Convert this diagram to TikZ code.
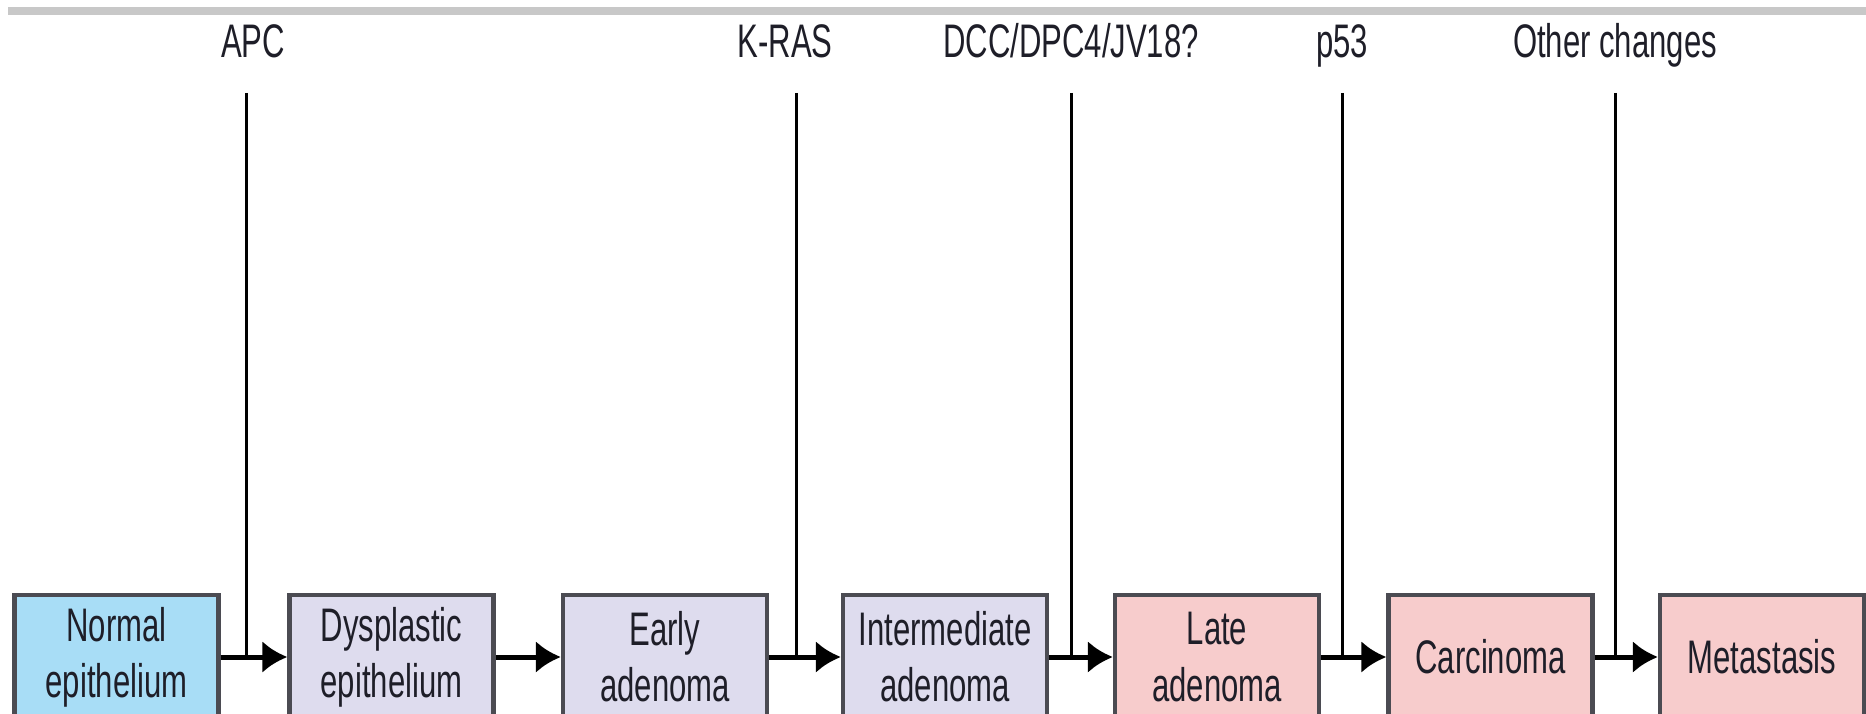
\documentclass[tikz,border=0pt]{standalone}
\usepackage{fontspec}
\setmainfont{Liberation Sans}[FakeStretch=0.66]
\usepackage{tikz}
\usetikzlibrary{arrows.meta}
\definecolor{boxblue}{RGB}{168,221,246}
\definecolor{boxlilac}{RGB}{222,220,238}
\definecolor{boxpink}{RGB}{247,204,204}
\definecolor{edgegray}{RGB}{75,75,82}
\definecolor{bargray}{RGB}{200,200,200}
\definecolor{inkdark}{RGB}{30,30,40}

\begin{document}
\begin{tikzpicture}[
    healthy/.style={rectangle, draw=edgegray, line width=1.2pt, fill=boxblue, align=center, minimum width=2.04cm, minimum height=1.24cm, inner sep=0pt, text=inkdark, font=\fontsize{13.4}{16}\selectfont},
    adenoma/.style={rectangle, draw=edgegray, line width=1.2pt, fill=boxlilac, align=center, minimum width=2.04cm, minimum height=1.24cm, inner sep=0pt, text=inkdark, font=\fontsize{13.4}{16}\selectfont},
    malignant/.style={rectangle, draw=edgegray, line width=1.2pt, fill=boxpink, align=center, minimum width=2.04cm, minimum height=1.24cm, inner sep=0pt, text=inkdark, font=\fontsize{13.4}{16}\selectfont},
    gene/.style={anchor=base, inner sep=0pt, text=inkdark, font=\fontsize{13.4}{16}\selectfont},
    arrow/.style={-{Latex[length=0.25cm, width=0.32cm]}, line width=0.05cm},
    hit/.style={line width=0.03cm}
]
\useasboundingbox (0,0) rectangle (18.66,7.13);
\clip (0,0) rectangle (18.66,7.13);
\fill[bargray] (0.08,6.98) rectangle (18.66,7.06);

\node[healthy] (normal) at (1.165,0.56) {Normal\\epithelium};
\node[adenoma] (dysplastic) at (3.915,0.56) {Dysplastic\\epithelium};
\node[adenoma] (early) at (6.65,0.56) {Early\\adenoma};
\node[adenoma] (intermediate) at (9.45,0.56) {Intermediate\\adenoma};
\node[malignant] (late) at (12.17,0.56) {Late\\adenoma};
\node[malignant] (carcinoma) at (14.905,0.56) {Carcinoma};
\node[malignant] (metastasis) at (17.62,0.56) {Metastasis};

\node[gene] (apc) at (2.53,6.55) {APC};
\node[gene] (kras) at (7.85,6.55) {K-RAS};
\node[gene] (dcc) at (10.71,6.55) {DCC/DPC4/JV18?};
\node[gene] (p53) at (13.42,6.55) {p53};
\node[gene] (other) at (16.15,6.55) {Other changes};

\draw[arrow] (normal) -- (dysplastic);
\draw[arrow] (dysplastic) -- (early);
\draw[arrow] (early) -- (intermediate);
\draw[arrow] (intermediate) -- (late);
\draw[arrow] (late) -- (carcinoma);
\draw[arrow] (carcinoma) -- (metastasis);

\draw[hit] ([xshift=-0.07cm, yshift=-0.35cm]apc.base) -- ([xshift=-0.07cm]apc.base |- normal.east);
\draw[hit] ([xshift=0.11cm, yshift=-0.35cm]kras.base) -- ([xshift=0.11cm]kras.base |- early.east);
\draw[hit] ([yshift=-0.35cm]dcc.base) -- (dcc.base |- intermediate.east);
\draw[hit] ([yshift=-0.35cm]p53.base) -- (p53.base |- late.east);
\draw[hit] ([yshift=-0.35cm]other.base) -- (other.base |- carcinoma.east);
\end{tikzpicture}
\end{document}
